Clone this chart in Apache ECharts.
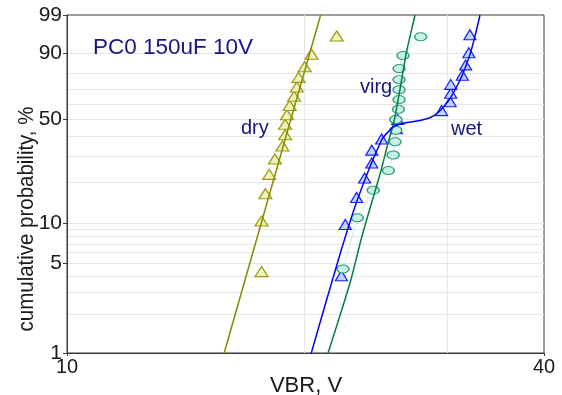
<!DOCTYPE html>
<html>
<head>
<meta charset="utf-8">
<script src="https://cdn.jsdelivr.net/npm/echarts@6/dist/echarts.min.js"></script>
<style>
  html, body { margin: 0; padding: 0; background: #fff; }
  #chart { width: 562px; height: 395px; }
</style>
</head>
<body>
<div id="chart"></div>
<script>
// Breakdown voltage (V) vs cumulative probability (%), Weibull probability paper.
const xTickLabels = [10, 40];
const xGridValues = [20, 30];
const yTickLabels = [1, 5, 10, 50, 90, 99];
const yGridValues = [2, 3, 4, 5, 6, 7, 8, 9, 10, 20, 30, 40, 50, 60, 70, 80, 90];

// dry samples
const dryV = [17.6, 17.6, 17.8, 18.0, 18.3, 18.7, 18.85, 18.85, 18.95, 19.1, 19.35, 19.5, 19.6, 19.95, 20.35, 21.9];
const dryP = [4.3, 10.4, 16.5, 22.6, 28.7, 34.8, 40.9, 47.0, 53.0, 59.1, 65.2, 71.3, 77.4, 83.5, 89.6, 95.7];
// virgin samples
const virgV = [22.3, 23.25, 24.35, 25.45, 25.8, 25.95, 26.0, 26.0, 26.2, 26.25, 26.25, 26.25, 26.25, 26.55, 27.95];
const virgP = [4.5, 11.0, 17.5, 24.0, 30.5, 37.0, 43.5, 50.0, 56.5, 63.0, 69.5, 76.0, 82.5, 89.0, 95.5];
// wet samples
const wetV = [22.2, 22.45, 23.2, 23.75, 24.25, 24.25, 24.95, 26.05, 26.15, 29.7, 30.45, 30.5, 30.5, 31.55, 31.85, 32.15, 32.25];
const wetP = [4.0, 9.8, 15.5, 21.3, 27.0, 32.8, 38.5, 44.3, 50.0, 55.7, 61.5, 67.2, 73.0, 78.7, 84.5, 90.2, 96.0];

// fitted distribution curves
const dryFitV = [15.79, 20.9];
const dryFitP = [1.0, 99.0];
const virgFitV = [21.33, 22.76, 23.5, 24.15, 24.86, 25.48, 25.89, 26.35, 26.81, 27.4, 27.5];
const virgFitP = [0.98, 3.51, 7.5, 13.23, 23.1, 37.98, 49.67, 71.3, 90.1, 98.51, 99.0];
const wetFitV = [20.32, 22.0, 23.25, 24.95, 25.56, 25.93, 26.54, 27.64, 28.71, 29.3, 29.9, 30.42, 31.02, 31.55, 32.24, 32.71, 33.1, 33.2];
const wetFitP = [0.98, 5.28, 14.88, 37.98, 43.6, 45.97, 47.6, 49.0, 51.1, 53.8, 58.4, 63.4, 71.3, 78.8, 89.25, 95.45, 98.51, 99.0];

// Probability-paper transforms: log voltage, Weibull probability
const tx = v => Math.log10(v);
const ty = p => Math.log(-Math.log(1 - p / 100));
const pairs = (vs, ps) => vs.map((v, i) => [tx(v), ty(ps[i])]);

const FONT = '"Liberation Sans", Arial, sans-serif';
const NAVY = '#16167e';
const AXIS = '#3a3a3a';
const GRID = '#e6e6e6';

const chart = echarts.init(document.getElementById('chart'), null, { renderer: 'canvas' });

chart.setOption({
  animation: false,
  backgroundColor: '#ffffff',
  grid: {
    left: 67, right: 18, top: 15, bottom: 42,
    show: true, borderColor: AXIS, borderWidth: 1, backgroundColor: 'transparent'
  },
  xAxis: {
    type: 'value',
    min: tx(10), max: tx(40),
    axisLine: { show: true, onZero: false, lineStyle: { color: AXIS, width: 1 } },
    axisTick: { show: true, inside: false, length: 3, customValues: xTickLabels.map(tx), lineStyle: { color: AXIS } },
    axisLabel: {
      customValues: xTickLabels.map(tx),
      formatter: v => String(Math.round(Math.pow(10, v))),
      fontFamily: FONT, fontSize: 20, color: '#1a1a1a', margin: 4
    },
    splitLine: { show: false }
  },
  yAxis: {
    type: 'value',
    min: ty(1), max: ty(99),
    axisLine: { show: true, onZero: false, lineStyle: { color: AXIS, width: 1 } },
    axisTick: { show: true, inside: false, length: 4, customValues: yTickLabels.map(ty), lineStyle: { color: AXIS } },
    axisLabel: {
      customValues: yTickLabels.map(ty),
      formatter: v => String(Math.round(100 * (1 - Math.exp(-Math.exp(v))))),
      fontFamily: FONT, fontSize: 21, color: '#1a1a1a', margin: 5
    },
    splitLine: { show: false }
  },
  series: [
    {
      // light grid lines of the probability paper, kept beneath the data
      type: 'line', data: [], z: 0, silent: true,
      markLine: {
        z: 0,
        silent: true, symbol: ['none', 'none'], animation: false,
        label: { show: false },
        lineStyle: { color: GRID, width: 1, type: 'solid' },
        emphasis: { disabled: true },
        data: yGridValues.map(p => ({ yAxis: ty(p) }))
          .concat(xGridValues.map(v => ({ xAxis: tx(v) })))
      }
    },
    {
      name: 'virg-trace', type: 'line', z: 1, data: pairs(virgV, virgP),
      symbol: 'none', lineStyle: { color: '#c4f2df', width: 1 }
    },
    {
      name: 'dry', type: 'scatter', z: 2, data: pairs(dryV, dryP),
      symbol: 'triangle', symbolSize: [13, 10],
      itemStyle: { color: '#f2f2b8', borderColor: '#9a9a10', borderWidth: 1.2, opacity: 1 }
    },
    {
      name: 'wet', type: 'scatter', z: 2, data: pairs(wetV, wetP),
      symbol: 'triangle', symbolSize: [12, 10],
      itemStyle: { color: '#bcd6ff', borderColor: '#1c1cff', borderWidth: 1.2, opacity: 1 }
    },
    {
      name: 'virg', type: 'scatter', z: 2, data: pairs(virgV, virgP),
      symbol: 'circle', symbolSize: [12, 8],
      itemStyle: { color: '#c8f2e0', borderColor: '#2f9a86', borderWidth: 1.2, opacity: 1 }
    },
    {
      name: 'dry-fit', type: 'line', z: 3, data: pairs(dryFitV, dryFitP),
      symbol: 'none', clip: true, lineStyle: { color: '#8a8a00', width: 1.5 }
    },
    {
      name: 'virg-fit', type: 'line', z: 3, data: pairs(virgFitV, virgFitP),
      symbol: 'none', clip: true, smooth: 0.3, lineStyle: { color: '#00803c', width: 1.5 }
    },
    {
      name: 'wet-fit', type: 'line', z: 3, data: pairs(wetFitV, wetFitP),
      symbol: 'none', clip: true, smooth: 0.3, lineStyle: { color: '#0000ff', width: 1.5 }
    }
  ],
  graphic: [
    { type: 'text', z: 10, x: 93, y: 48, style: { text: 'PC0 150uF 10V', fontFamily: FONT, fontSize: 22.5, fill: NAVY, align: 'left', verticalAlign: 'middle' } },
    { type: 'text', z: 10, x: 241, y: 128, style: { text: 'dry', fontFamily: FONT, fontSize: 20, fill: NAVY, align: 'left', verticalAlign: 'middle' } },
    { type: 'text', z: 10, x: 360, y: 87, style: { text: 'virg', fontFamily: FONT, fontSize: 20, fill: NAVY, align: 'left', verticalAlign: 'middle' } },
    { type: 'text', z: 10, x: 451, y: 129, style: { text: 'wet', fontFamily: FONT, fontSize: 20, fill: NAVY, align: 'left', verticalAlign: 'middle' } },
    { type: 'text', z: 10, x: 306, y: 386, style: { text: 'VBR, V', fontFamily: FONT, fontSize: 22, fill: '#1a1a1a', align: 'center', verticalAlign: 'middle' } },
    { type: 'text', z: 10, x: 27, y: 219, rotation: Math.PI / 2, scaleX: 0.93, style: { text: 'cumulative probability, %', fontFamily: FONT, fontSize: 22, fill: '#1a1a1a', align: 'center', verticalAlign: 'middle' } }
  ]
});
</script>
</body>
</html>
